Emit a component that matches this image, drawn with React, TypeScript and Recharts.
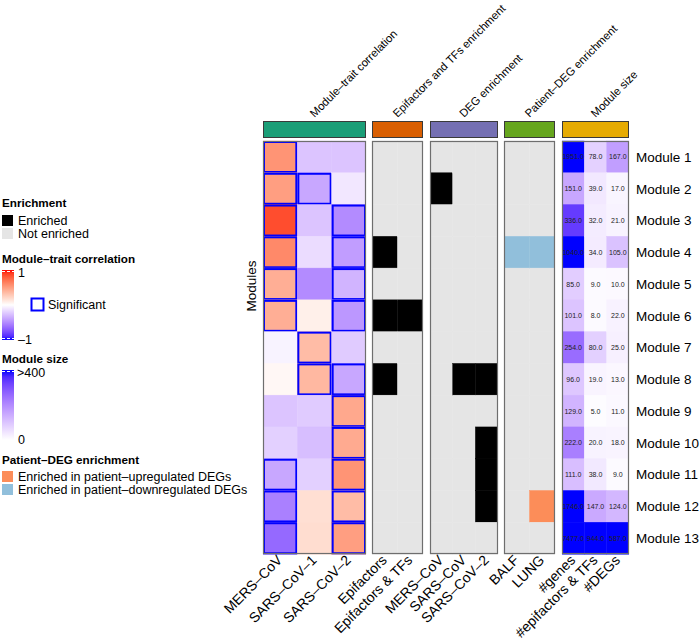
import React from 'react';
import { BarChart, Bar, XAxis, YAxis, LabelList } from 'recharts';

// row names
const modules = [
  'Module 1', 'Module 2', 'Module 3', 'Module 4', 'Module 5', 'Module 6', 'Module 7',
  'Module 8', 'Module 9', 'Module 10', 'Module 11', 'Module 12', 'Module 13',
];

// module-trait correlation
const corrColumns = ['MERS–CoV', 'SARS–CoV–1', 'SARS–CoV–2'];
const corrMers = [0.55, 0.5, 0.85, 0.6, 0.42, 0.42, -0.05, 0.04, -0.25, -0.2, -0.38, -0.55, -0.65];
const corrSars1 = [-0.25, -0.38, -0.25, -0.15, -0.5, 0.08, 0.35, 0.37, -0.22, -0.28, -0.2, 0.17, 0.18];
const corrSars2 = [-0.25, -0.1, -0.5, -0.42, -0.32, -0.45, -0.22, -0.38, 0.45, 0.44, 0.55, 0.35, 0.5];
const sigMers = [1, 1, 1, 1, 1, 1, 0, 0, 0, 0, 1, 1, 1];
const sigSars1 = [0, 1, 0, 0, 0, 0, 1, 1, 0, 0, 0, 0, 0];
const sigSars2 = [0, 0, 1, 1, 1, 1, 0, 1, 1, 1, 1, 1, 1];

// epifactors / TFs enrichment
const epiColumns = ['Epifactors', 'Epifactors & TFs'];
const epiEpifactors = [0, 0, 0, 1, 0, 1, 0, 1, 0, 0, 0, 0, 0];
const epiEpiTFs = [0, 0, 0, 0, 0, 1, 0, 0, 0, 0, 0, 0, 0];

// DEG enrichment
const degColumns = ['MERS–CoV', 'SARS–CoV', 'SARS–CoV–2'];
const degMers = [0, 1, 0, 0, 0, 0, 0, 0, 0, 0, 0, 0, 0];
const degSars = [0, 0, 0, 0, 0, 0, 0, 1, 0, 0, 0, 0, 0];
const degSars2 = [0, 0, 0, 0, 0, 0, 0, 1, 0, 1, 1, 1, 0];

// patient-DEG enrichment: 'up', 'down' or ''
const patientColumns = ['BALF', 'LUNG'];
const patientBalf = ['', '', '', 'down', '', '', '', '', '', '', '', '', ''];
const patientLung = ['', '', '', 'down', '', '', '', '', '', '', '', 'up', ''];

// module size
const sizeColumns = ['#genes', '#epifactors & TFs', '#DEGs'];
const sizeGenes = [1951, 151, 336, 1040, 85, 101, 254, 96, 129, 222, 111, 1746, 7477];
const sizeEpiTFs = [78, 39, 32, 34, 9, 8, 80, 19, 5, 20, 38, 147, 944];
const sizeDegs = [167, 17, 21, 105, 10, 22, 25, 13, 11, 18, 9, 124, 587];

const panelTitles = [
  'Module–trait correlation',
  'Epifactors and TFs enrichment',
  'DEG enrichment',
  'Patient–DEG enrichment',
  'Module size',
];
const headerColors = ['#1B9E77', '#D95F02', '#7570B3', '#66A61E', '#E6AB02'];

// ---- colour helpers (LAB interpolation like colorRamp2) ----
const toLin = (c: number) => {
  const v = c / 255;
  return v <= 0.04045 ? v / 12.92 : Math.pow((v + 0.055) / 1.055, 2.4);
};
const fromLin = (c: number) => {
  const v = c <= 0.0031308 ? 12.92 * c : 1.055 * Math.pow(c, 1 / 2.4) - 0.055;
  return Math.round(Math.max(0, Math.min(1, v)) * 255);
};
const hexToLab = (hex: string) => {
  const r = toLin(parseInt(hex.slice(1, 3), 16));
  const g = toLin(parseInt(hex.slice(3, 5), 16));
  const b = toLin(parseInt(hex.slice(5, 7), 16));
  const X = (0.4124 * r + 0.3576 * g + 0.1805 * b) / 0.95047;
  const Y = 0.2126 * r + 0.7152 * g + 0.0722 * b;
  const Z = (0.0193 * r + 0.1192 * g + 0.9505 * b) / 1.08883;
  const f = (t: number) => (t > 0.008856 ? Math.cbrt(t) : 7.787 * t + 16 / 116);
  return [116 * f(Y) - 16, 500 * (f(X) - f(Y)), 200 * (f(Y) - f(Z))];
};
const labToHex = (L: number, a: number, bb: number) => {
  const fy = (L + 16) / 116;
  const fx = fy + a / 500;
  const fz = fy - bb / 200;
  const inv = (t: number) => (t * t * t > 0.008856 ? t * t * t : (t - 16 / 116) / 7.787);
  const X = inv(fx) * 0.95047;
  const Y = inv(fy);
  const Z = inv(fz) * 1.08883;
  const r = 3.2406 * X - 1.5372 * Y - 0.4986 * Z;
  const g = -0.9689 * X + 1.8758 * Y + 0.0415 * Z;
  const b = 0.0557 * X - 0.204 * Y + 1.057 * Z;
  const h = (n: number) => fromLin(n).toString(16).padStart(2, '0');
  return '#' + h(r) + h(g) + h(b);
};
const mix = (c1: string, c2: string, t: number) => {
  const a = hexToLab(c1);
  const b = hexToLab(c2);
  return labToHex(a[0] + (b[0] - a[0]) * t, a[1] + (b[1] - a[1]) * t, a[2] + (b[2] - a[2]) * t);
};
const corrColor = (v: number) => (v >= 0 ? mix('#FFFFFF', '#FF0000', v) : mix('#FFFFFF', '#0000FF', -v));
const sizeColor = (v: number) => mix('#FFFFFF', '#0000FF', Math.min(v, 400) / 400);
const enrichColor = (v: number) => (v ? '#000000' : '#E5E5E5');
const patientColor = (v: string) => (v === 'up' ? '#FC8D59' : v === 'down' ? '#91BFDB' : '#E5E5E5');

// ---- layout ----
const BODY_TOP = 141;
const BODY_H = 413;
const AXIS_H = 100;
const panels = [
  { x: 263, w: 103 },
  { x: 372, w: 51 },
  { x: 430, w: 68 },
  { x: 504, w: 51 },
  { x: 562, w: 67 },
];
const FONT = '"Liberation Sans", Arial, Helvetica, sans-serif';

const ColTick = (props: any) => {
  const { x, y, payload, names } = props;
  const label = names[Math.floor(payload.value)];
  const tx = x + 3;
  const ty = y + 7;
  return (
    <text x={tx} y={ty} transform={`rotate(-45, ${tx}, ${ty})`} textAnchor="end" fontSize={14} fill="#000">
      {label}
    </text>
  );
};

const RowTick = (props: any) => {
  const { x, y, payload } = props;
  return (
    <text x={x + 7} y={y} dy="0.36em" textAnchor="start" fontSize={13.5} fill="#000">
      {payload.value}
    </text>
  );
};

type PanelProps = {
  idx: number;
  columns: string[];
  fills: string[][];
  sig?: number[][];
  labels?: string[][];
  rowNames?: boolean;
};

const HeatPanel = ({ idx, columns, fills, sig, labels, rowNames }: PanelProps) => {
  const { x, w } = panels[idx];
  const n = columns.length;
  const data = modules.map((name, r) => {
    const row: any = { name };
    columns.forEach((_, c) => {
      row[`v${c}`] = 1;
      row[`f${c}`] = fills[c][r];
      row[`s${c}`] = sig ? sig[c][r] : 0;
      if (labels) row[`t${c}`] = labels[c][r];
    });
    return row;
  });
  const cellShape = (p: any, c: number) => {
    const { x: cx, y: cy, width, height, payload } = p;
    const fill = payload[`f${c}`];
    return (
      <g>
        <rect x={cx} y={cy} width={width} height={height} fill={fill} stroke={fill} strokeWidth={0.4} />
        {payload[`s${c}`] ? (
          <rect x={cx + 1} y={cy + 1} width={width - 2} height={height - 2}
            fill="none" stroke="#0000FF" strokeWidth={2} />
        ) : null}
      </g>
    );
  };
  return (
    <div style={{ position: 'absolute', left: x, top: BODY_TOP }}>
      <BarChart
        layout="vertical"
        width={w + (rowNames ? 75 : 0)}
        height={BODY_H + AXIS_H}
        data={data}
        margin={{ top: 0, right: 0, bottom: 0, left: 0 }}
        barCategoryGap={0}
        barGap={0}
      >
        <XAxis
          type="number"
          domain={[0, n]}
          ticks={columns.map((_, i) => i + 0.5)}
          interval={0}
          height={AXIS_H}
          axisLine={false}
          tickLine={false}
          tickSize={0}
          tickMargin={0}
          allowDataOverflow
          tick={(p: any) => <ColTick {...p} names={columns} />}
        />
        <YAxis
          type="category"
          dataKey="name"
          orientation="right"
          hide={!rowNames}
          width={75}
          axisLine={false}
          tickLine={false}
          tickSize={0}
          tickMargin={0}
          interval={0}
          tick={(p: any) => <RowTick {...p} />}
        />
        {columns.map((_, c) => (
          <Bar key={c} dataKey={`v${c}`} stackId="cells" isAnimationActive={false}
            shape={(p: any) => cellShape(p, c)}>
            {labels ? (
              <LabelList dataKey={`t${c}`} position="center" fontSize={7} fill="#222" />
            ) : null}
          </Bar>
        ))}
      </BarChart>
    </div>
  );
};

const gradStops = (from: string, to: string) =>
  [0, 0.1, 0.2, 0.3, 0.4, 0.5, 0.6, 0.7, 0.8, 0.9, 1].map((t) => (
    <stop key={t} offset={`${t * 100}%`} stopColor={mix(from, to, t)} />
  ));

const Overlay = () => (
  <svg width={700} height={644} style={{ position: 'absolute', left: 0, top: 0, pointerEvents: 'none' }}>
    <defs>
      <linearGradient id="gRed" x1="0" y1="1" x2="0" y2="0">{gradStops('#FFFFFF', '#FF0000')}</linearGradient>
      <linearGradient id="gBlue" x1="0" y1="0" x2="0" y2="1">{gradStops('#FFFFFF', '#0000FF')}</linearGradient>
      <linearGradient id="gSize" x1="0" y1="1" x2="0" y2="0">{gradStops('#FFFFFF', '#0000FF')}</linearGradient>
    </defs>

    {/* panel borders, header bars and titles */}
    {panels.map((p, i) => (
      <g key={i}>
        <rect x={p.x + 0.5} y={BODY_TOP + 0.5} width={p.w - 1} height={BODY_H - 1} fill="none" stroke="#6E6E6E" strokeWidth={1.2} />
        <rect x={p.x + 0.5} y={121.5} width={p.w - 1} height={16} fill={headerColors[i]} stroke="#3A3A3A" strokeWidth={1} />
        <text x={p.x + p.w / 2} y={118} transform={`rotate(-45, ${p.x + p.w / 2}, 118)`} fontSize={11.3} fill="#000">
          {panelTitles[i]}
        </text>
      </g>
    ))}

    <text x={251} y={286} transform="rotate(-90, 251, 286)" textAnchor="middle" dy="0.35em" fontSize={13.5} fill="#000">
      Modules
    </text>

    {/* legends */}
    <g fontSize={12.5} fill="#000">
      <text x={2} y={207} fontWeight="bold" fontSize={11.7}>Enrichment</text>
      <rect x={2} y={215} width={11} height={11} fill="#000000" />
      <text x={18} y={225}>Enriched</text>
      <rect x={2} y={228} width={11} height={11} fill="#E5E5E5" />
      <text x={18} y={238}>Not enriched</text>

      <text x={2} y={263} fontWeight="bold" fontSize={11.7}>Module–trait correlation</text>
      <rect x={2} y={270} width={12} height={35} fill="url(#gRed)" />
      <rect x={2} y={305} width={12} height={35} fill="url(#gBlue)" />
      <line x1={2} x2={14} y1={271.5} y2={271.5} stroke="#fff" strokeDasharray="3 2" />
      <line x1={2} x2={14} y1={338.5} y2={338.5} stroke="#fff" strokeDasharray="3 2" />
      <text x={18} y={277}>1</text>
      <text x={18} y={344}>–1</text>
      <rect x={31.5} y={298.5} width={12} height={12} fill="none" stroke="#0000FF" strokeWidth={2} />
      <text x={48} y={309}>Significant</text>

      <text x={2} y={363} fontWeight="bold" fontSize={11.7}>Module size</text>
      <rect x={2} y={370} width={12} height={70} fill="url(#gSize)" />
      <line x1={2} x2={14} y1={371.5} y2={371.5} stroke="#fff" strokeDasharray="3 2" />
      <text x={17} y={377}>&gt;400</text>
      <text x={18} y={444}>0</text>

      <text x={2} y={464} fontWeight="bold" fontSize={11.7}>Patient–DEG enrichment</text>
      <rect x={2} y={471} width={11} height={11} fill="#FC8D59" />
      <text x={18} y={481}>Enriched in patient–upregulated DEGs</text>
      <rect x={2} y={484} width={11} height={11} fill="#91BFDB" />
      <text x={18} y={494}>Enriched in patient–downregulated DEGs</text>
    </g>
  </svg>
);

const fmt = (v: number) => v.toFixed(1);

const App = () => (
  <div style={{ position: 'absolute', left: 0, top: 0, width: 700, height: 644, background: '#fff', fontFamily: FONT }}>
    <style>{'.recharts-surface { overflow: visible; } .recharts-wrapper { overflow: visible; }'}</style>
    <HeatPanel
      idx={0}
      columns={corrColumns}
      fills={[corrMers.map(corrColor), corrSars1.map(corrColor), corrSars2.map(corrColor)]}
      sig={[sigMers, sigSars1, sigSars2]}
    />
    <HeatPanel idx={1} columns={epiColumns} fills={[epiEpifactors.map(enrichColor), epiEpiTFs.map(enrichColor)]} />
    <HeatPanel
      idx={2}
      columns={degColumns}
      fills={[degMers.map(enrichColor), degSars.map(enrichColor), degSars2.map(enrichColor)]}
    />
    <HeatPanel idx={3} columns={patientColumns} fills={[patientBalf.map(patientColor), patientLung.map(patientColor)]} />
    <HeatPanel
      idx={4}
      columns={sizeColumns}
      fills={[sizeGenes.map(sizeColor), sizeEpiTFs.map(sizeColor), sizeDegs.map(sizeColor)]}
      labels={[sizeGenes.map(fmt), sizeEpiTFs.map(fmt), sizeDegs.map(fmt)]}
      rowNames
    />
    <Overlay />
  </div>
);

export default App;
